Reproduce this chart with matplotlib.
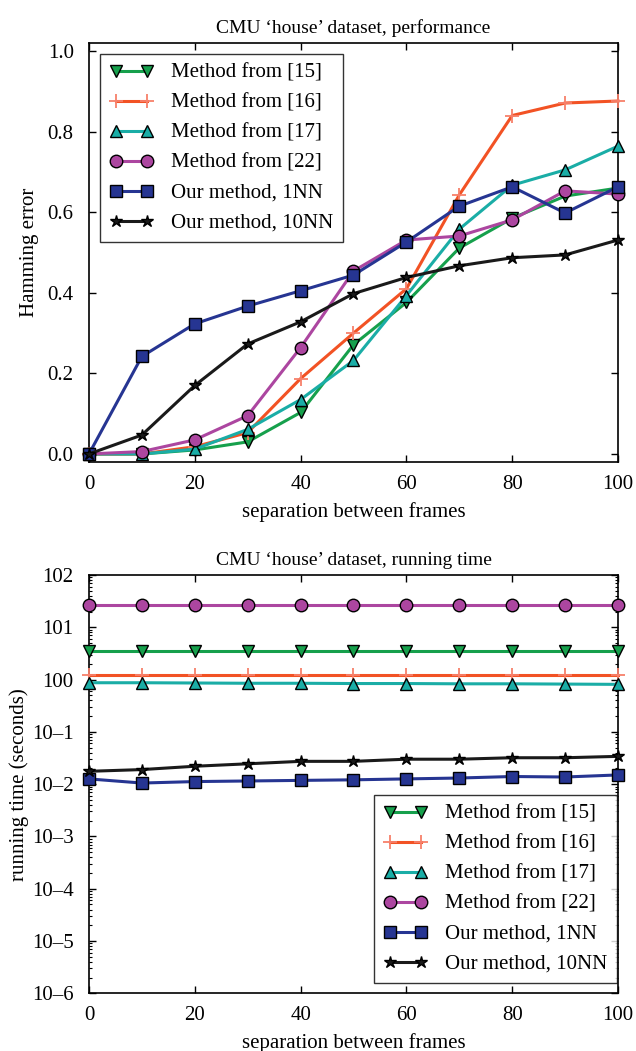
import numpy as np
import matplotlib
matplotlib.use("Agg")
import matplotlib.pyplot as plt
from matplotlib.ticker import LogLocator, NullFormatter, FixedLocator

plt.rcParams['font.family'] = ['Liberation Serif', 'DejaVu Serif']
plt.rcParams['font.size'] = 15

frames = [0, 10, 20, 30, 40, 50, 60, 70, 80, 90, 100]

# Hamming error
err_15 = [0.0, 0.0, 0.01, 0.03, 0.103, 0.271, 0.376, 0.511, 0.585, 0.640, 0.660]
err_16 = [0.0, 0.0, 0.018, 0.053, 0.187, 0.300, 0.410, 0.643, 0.840, 0.871, 0.876]
err_17 = [0.0, 0.0, 0.012, 0.061, 0.135, 0.232, 0.393, 0.558, 0.667, 0.705, 0.764]
err_22 = [0.0, 0.006, 0.035, 0.095, 0.264, 0.454, 0.531, 0.541, 0.581, 0.653, 0.645]
err_1nn = [0.0, 0.242, 0.323, 0.367, 0.405, 0.444, 0.526, 0.615, 0.663, 0.598, 0.663]
err_10nn = [0.0, 0.047, 0.170, 0.273, 0.328, 0.398, 0.438, 0.467, 0.487, 0.494, 0.531]

# running time (seconds)
time_15 = [3.54] * 11
time_16 = [1.20] * 11
time_17 = [0.87, 0.87, 0.86, 0.85, 0.85, 0.84, 0.84, 0.83, 0.83, 0.82, 0.81]
time_22 = [26.5] * 11
time_1nn = [0.0126, 0.0105, 0.0112, 0.0115, 0.0118, 0.0121, 0.0126, 0.0131, 0.0140, 0.0137, 0.0150]
time_10nn = [0.0176, 0.0190, 0.0220, 0.0245, 0.0273, 0.0273, 0.0300, 0.0300, 0.0320, 0.0320, 0.0340]

labels = ["Method from [15]", "Method from [16]", "Method from [17]",
          "Method from [22]", "Our method, 1NN", "Our method, 10NN"]
colors = ["#16a04c", "#f25224", "#1aada6", "#ac46a0", "#263592", "#1a1a1a"]
markers = ["v", "+", "^", "o", "s", "*"]
msizes = [9, 10, 9, 9, 8, 9]

y_ticklabels = ["10\u20136", "10\u20135", "10\u20134", "10\u20133", "10\u20132", "10\u20131", "100", "101", "102"]

fig = plt.figure(figsize=(6.36, 10.51), dpi=100)
ax1 = fig.add_axes([0.1399, 0.5604, 0.8318, 0.3987])
ax2 = fig.add_axes([0.1399, 0.0549, 0.8318, 0.3980])

err_series = [err_15, err_16, err_17, err_22, err_1nn, err_10nn]
time_series = [time_15, time_16, time_17, time_22, time_1nn, time_10nn]

legend_kw = dict(fontsize=15, frameon=True, fancybox=False, numpoints=2,
                 edgecolor="black", handlelength=2.1, handletextpad=0.85,
                 borderpad=0.45, labelspacing=0.5, borderaxespad=0)

for ax, series in [(ax1, err_series), (ax2, time_series)]:
    for s, lab, c, m, ms in zip(series, labels, colors, markers, msizes):
        plus = m == "+"
        ax.plot(frames, s, color=c, marker=m, markersize=ms, lw=2.2,
                markeredgecolor="#f7806a" if plus else "black",
                markeredgewidth=1.3 if plus else 1.0,
                label=lab, clip_on=False, zorder=3)
    ax.set_xlim(0, 100)
    ax.set_xticks([0, 20, 40, 60, 80, 100])
    ax.tick_params(axis="x", direction="in", top=True, length=5, width=1, pad=9, labelsize=15)
    ax.tick_params(axis="y", direction="in", right=True, length=5, width=1, pad=11, labelsize=15)
    ax.tick_params(which="minor", direction="in", right=True, length=2.5, width=0.8)
    ax.set_xlabel("separation between frames", fontsize=15, labelpad=6)
    for sp in ax.spines.values():
        sp.set_linewidth(1.2)

ax1.set_ylim(-0.02, 1.02)
ax1.set_yticks([0.0, 0.2, 0.4, 0.6, 0.8, 1.0])
ax1.set_yticklabels(["0.0", "0.2", "0.4", "0.6", "0.8", "1.0"])
ax1.set_ylabel("Hamming error", fontsize=15, labelpad=6)
ax1.set_title("CMU \u2018house\u2019 dataset, performance", fontsize=14, pad=7)
ax1.legend(loc="upper left", bbox_to_anchor=(0.021, 0.974), **legend_kw)

ax2.set_yscale("log")
ax2.set_ylim(1e-6, 1e2)
ax2.yaxis.set_major_locator(FixedLocator([10.0 ** k for k in range(-6, 3)]))
ax2.set_yticklabels(y_ticklabels)
ax2.yaxis.set_minor_locator(LogLocator(base=10, subs=np.arange(2, 10), numticks=20))
ax2.yaxis.set_minor_formatter(NullFormatter())
ax2.set_ylabel("running time (seconds)", fontsize=15, labelpad=2)
ax2.set_title("CMU \u2018house\u2019 dataset, running time", fontsize=14, pad=7)
ax2.legend(loc="lower right", bbox_to_anchor=(0.998, 0.024), **legend_kw)

fig.savefig("out.png", dpi=100)
